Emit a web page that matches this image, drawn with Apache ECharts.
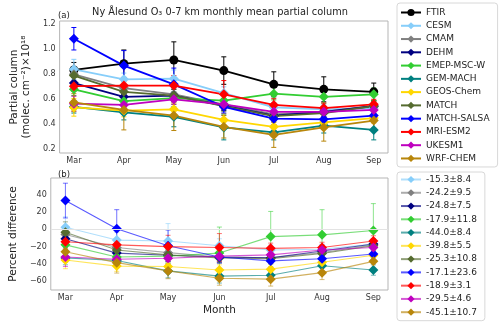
<!DOCTYPE html>
<html>
<head>
<meta charset="utf-8">
<script src="https://cdn.jsdelivr.net/npm/echarts@6/dist/echarts.min.js"></script>
<style>
  html, body { margin: 0; padding: 0; background: #fff; }
  #chart { width: 500px; height: 326px; }
</style>
</head>
<body>
<div id="chart"></div>
<script>
var months = ['Mar', 'Apr', 'May', 'Jun', 'Jul', 'Aug', 'Sep'];
var models = ['FTIR', 'CESM', 'CMAM', 'DEHM', 'EMEP-MSC-W', 'GEM-MACH', 'GEOS-Chem',
              'MATCH', 'MATCH-SALSA', 'MRI-ESM2', 'UKESM1', 'WRF-CHEM'];

// (a) partial column, x10^18 molec/cm2, one row per model
var colMean = [
  [0.835, 0.885, 0.915, 0.83, 0.72, 0.68, 0.66],   // FTIR
  [0.84, 0.76, 0.765, 0.65, 0.535, 0.52, 0.53],    // CESM
  [0.80, 0.69, 0.64, 0.56, 0.48, 0.50, 0.55],      // CMAM
  [0.73, 0.62, 0.63, 0.55, 0.47, 0.50, 0.545],     // DEHM
  [0.68, 0.585, 0.61, 0.59, 0.645, 0.62, 0.64],    // EMEP-MSC-W
  [0.54, 0.495, 0.46, 0.375, 0.335, 0.39, 0.355],  // GEM-MACH
  [0.535, 0.51, 0.52, 0.435, 0.38, 0.415, 0.45],   // GEOS-Chem
  [0.79, 0.66, 0.63, 0.545, 0.465, 0.49, 0.545],   // MATCH
  [1.085, 0.87, 0.72, 0.54, 0.445, 0.44, 0.47],    // MATCH-SALSA
  [0.705, 0.71, 0.71, 0.64, 0.555, 0.53, 0.56],    // MRI-ESM2
  [0.565, 0.555, 0.60, 0.56, 0.50, 0.50, 0.515],   // UKESM1
  [0.575, 0.515, 0.47, 0.38, 0.315, 0.375, 0.43]   // WRF-CHEM
];
var colErr = [
  [0.06, 0.11, 0.145, 0.11, 0.10, 0.10, 0.07],
  [0.08, 0.05, 0.07, 0.05, 0.04, 0.04, 0.04],
  [0.06, 0.05, 0.05, 0.04, 0.04, 0.04, 0.04],
  [0.05, 0.05, 0.05, 0.04, 0.04, 0.04, 0.04],
  [0.05, 0.05, 0.05, 0.05, 0.05, 0.05, 0.05],
  [0.05, 0.06, 0.08, 0.10, 0.06, 0.06, 0.08],
  [0.07, 0.05, 0.05, 0.05, 0.04, 0.04, 0.04],
  [0.05, 0.05, 0.05, 0.04, 0.04, 0.04, 0.04],
  [0.09, 0.12, 0.13, 0.05, 0.05, 0.05, 0.05],
  [0.04, 0.04, 0.08, 0.11, 0.05, 0.04, 0.04],
  [0.06, 0.04, 0.04, 0.04, 0.04, 0.04, 0.04],
  [0.07, 0.16, 0.12, 0.09, 0.10, 0.11, 0.06]
];

// (b) percent difference to FTIR, models only (CESM .. WRF-CHEM)
var pctMean = [
  [2.3, -12.5, -13.5, -19, -24, -23, -17],
  [-6, -21, -27, -32, -33, -27, -18],
  [-11, -27.5, -30, -32, -33, -25, -17],
  [-18, -32, -31, -27.5, -8.5, -6.5, -1.5],
  [-33, -36, -48, -54, -53, -42, -47],
  [-35.5, -42.5, -43, -47, -46, -38, -30],
  [-3.5, -24, -29.5, -33, -34, -28, -19],
  [33, 0.5, -19, -32, -36.5, -34, -28.5],
  [-14.5, -18, -20, -21, -22, -21, -13.5],
  [-32, -34.5, -33.5, -31, -29.5, -24, -21],
  [-26, -38.5, -48, -56.5, -57.5, -50, -37]
];
var pctErr = [
  [12, 9, 20, 8, 6, 6, 6],
  [10, 8, 8, 6, 6, 6, 6],
  [9, 7, 7, 6, 6, 6, 6],
  [8, 8, 8, 30, 29, 29, 31],
  [8, 8, 8, 8, 6, 6, 6],
  [10, 6, 6, 6, 6, 6, 6],
  [12, 8, 8, 6, 6, 6, 6],
  [20, 22, 18, 7, 7, 7, 7],
  [8, 6, 13, 16, 6, 6, 6],
  [11, 7, 7, 6, 6, 6, 6],
  [12, 12, 9, 8, 8, 8, 8]
];
var pctLabels = ['-15.3±8.4', '-24.2±9.5', '-24.8±7.5', '-17.9±11.8', '-44.0±8.4', '-39.8±5.5',
                 '-25.3±10.8', '-17.1±23.6', '-18.9±3.1', '-29.5±4.6', '-45.1±10.7'];

var colTicks = [0.2, 0.4, 0.6, 0.8, 1.0, 1.2];
var pctTicks = [-60, -40, -20, 0, 20, 40];

var colors = ['#000000', '#87cefa', '#808080', '#000080', '#32cd32', '#008080', '#ffd700',
              '#556b2f', '#0000ff', '#ff0000', '#bf00bf', '#b8860b'];

var font = 'DejaVu Sans';
var chart = echarts.init(document.getElementById('chart'));

function errBars(gi, vals, errs, color, alpha) {
  return {
    type: 'custom', xAxisIndex: gi, yAxisIndex: gi, silent: true,
    data: vals.map(function (v, i) { return [i, v, errs[i]]; }),
    renderItem: function (params, api) {
      var x = api.value(0), y = api.value(1), e = api.value(2);
      var t = api.coord([x, y + e]), b = api.coord([x, y - e]);
      var cw = 2.5, st = { stroke: color, lineWidth: 1, opacity: alpha };
      return { type: 'group', children: [
        { type: 'line', shape: { x1: t[0], y1: t[1], x2: b[0], y2: b[1] }, style: st },
        { type: 'line', shape: { x1: t[0] - cw, y1: t[1], x2: t[0] + cw, y2: t[1] }, style: st },
        { type: 'line', shape: { x1: b[0] - cw, y1: b[1], x2: b[0] + cw, y2: b[1] }, style: st }
      ]};
    }
  };
}

var series = [];
models.forEach(function (m, k) {
  series.push(errBars(0, colMean[k], colErr[k], colors[k], 1));
  series.push({
    name: m, type: 'line', xAxisIndex: 0, yAxisIndex: 0,
    data: colMean[k].map(function (v, i) { return [i, v]; }),
    symbol: k === 0 ? 'circle' : 'diamond',
    symbolSize: k === 0 ? 9 : 10,
    color: colors[k],
    lineStyle: { width: 1.8, color: colors[k] },
    itemStyle: { color: colors[k] },
    emphasis: { disabled: true }
  });
});
pctLabels.forEach(function (lab, j) {
  var c = colors[j + 1];
  series.push(errBars(1, pctMean[j], pctErr[j], c, 0.55));
  var s = {
    name: lab, type: 'line', xAxisIndex: 1, yAxisIndex: 1,
    data: pctMean[j].map(function (v, i) { return [i, v]; }),
    symbol: 'diamond', symbolSize: 10,
    color: c,
    lineStyle: { width: 1.1, color: c, opacity: 0.65 },
    itemStyle: { color: c },
    emphasis: { disabled: true }
  };
  if (j === 0) {
    s.markLine = {
      silent: true, symbol: 'none', label: { show: false },
      lineStyle: { color: '#e3e3e3', width: 1, type: 'solid' },
      data: [{ yAxis: 0 }]
    };
  }
  series.push(s);
});

var tickLab = { fontSize: 8, color: '#333', fontFamily: font };
function xAxis(gi, name) {
  return {
    type: 'value', gridIndex: gi, min: -0.285, max: 6.285,
    name: name, nameLocation: 'middle', nameGap: 15,
    nameTextStyle: { fontSize: 10.5, color: '#222', fontFamily: font },
    axisLine: { show: false },
    axisTick: { show: false },
    axisLabel: Object.assign({ margin: 4, customValues: [0, 1, 2, 3, 4, 5, 6],
      formatter: function (v) { return months[Math.round(v)]; } }, tickLab),
    splitLine: { show: false }
  };
}

var option = {
  animation: false,
  backgroundColor: '#fff',
  textStyle: { fontFamily: font },
  title: [
    { text: 'Ny Ålesund O₃ 0-7 km monthly mean partial column', left: 215, top: 2, textAlign: 'center',
      textStyle: { fontSize: 9.8, fontWeight: 'normal', color: '#222', fontFamily: font } },
    { text: '(a)', left: 53, top: 6, textStyle: { fontSize: 8.5, fontWeight: 'normal', color: '#222', fontFamily: font } },
    { text: '(b)', left: 53, top: 165, textStyle: { fontSize: 8.5, fontWeight: 'normal', color: '#222', fontFamily: font } }
  ],
  grid: [
    { left: 42, top: 21, width: 346, height: 132, show: true, borderColor: '#b5b5b5', borderWidth: 1 },
    { left: 42, top: 178, width: 346, height: 112, show: true, borderColor: '#b5b5b5', borderWidth: 1 }
  ],
  xAxis: [xAxis(0, ''), xAxis(1, 'Month')],
  yAxis: [
    {
      type: 'value', gridIndex: 0, min: 0.17, max: 1.227,
      name: 'Partial column\n(molec. cm⁻²)×10¹⁸', nameLocation: 'middle', nameGap: 14,
      nameTextStyle: { fontSize: 10.5, color: '#222', lineHeight: 12, fontFamily: font },
      axisLine: { show: false },
      axisTick: { show: false },
      axisLabel: Object.assign({ margin: 4, customValues: colTicks,
        formatter: function (v) { return v.toFixed(1); } }, tickLab),
      splitLine: { show: false }
    },
    {
      type: 'value', gridIndex: 1, min: -70, max: 59,
      name: 'Percent difference', nameLocation: 'middle', nameGap: 20,
      nameTextStyle: { fontSize: 10.5, color: '#222', fontFamily: font },
      axisLine: { show: false },
      axisTick: { show: false },
      axisLabel: Object.assign({ margin: 4, customValues: pctTicks,
        formatter: function (v) { return String(Math.round(v)).replace('-', '\u2212'); } }, tickLab),
      splitLine: { show: false }
    }
  ],
  legend: [
    {
      data: models, orient: 'vertical', left: 397, top: 3, width: 100,
      itemWidth: 20, itemHeight: 9, itemGap: 4.27,
      padding: [5, 8, 4, 3],
      borderColor: '#d8d8d8', borderWidth: 1, borderRadius: 3,
      textStyle: { fontSize: 9, color: '#222', fontFamily: font, lineHeight: 9 },
      selectedMode: false
    },
    {
      data: pctLabels, orient: 'vertical', left: 397, top: 172, width: 100,
      itemWidth: 20, itemHeight: 9, itemGap: 4.27,
      padding: [3, 8, 4, 3],
      borderColor: '#d8d8d8', borderWidth: 1, borderRadius: 3,
      textStyle: { fontSize: 9, color: '#222', fontFamily: font, lineHeight: 9 },
      selectedMode: false
    }
  ],
  series: series
};

chart.setOption(option);
</script>
</body>
</html>
